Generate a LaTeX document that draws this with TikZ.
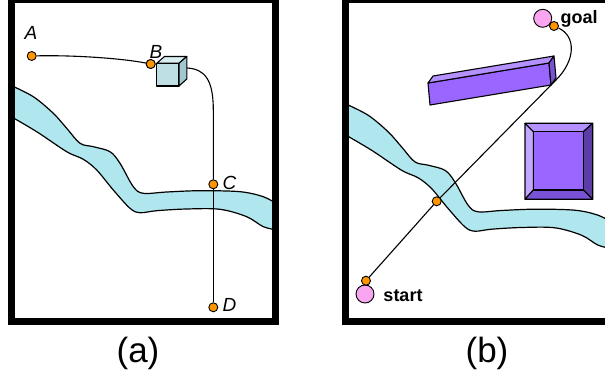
\documentclass[tikz,border=0pt]{standalone}
\usepackage{fontspec}
\setmainfont{Liberation Sans}
\definecolor{rivercolor}{RGB}{176,230,238}
\definecolor{waypoint}{RGB}{255,150,0}
\definecolor{endpoint}{RGB}{250,165,240}
\definecolor{cubefront}{RGB}{190,224,228}
\definecolor{cubetop}{RGB}{216,238,241}
\definecolor{cubeside}{RGB}{160,200,206}
\definecolor{blockcolor}{RGB}{153,102,255}
\definecolor{blocklight}{RGB}{180,145,255}
\definecolor{blockmid}{RGB}{122,82,214}
\definecolor{blockdark}{RGB}{92,60,165}

\begin{document}
\begin{tikzpicture}[
    x=1pt, y=-1pt,
    frame/.style={draw, line width=7pt},
    river/.style={draw, fill=rivercolor, line width=1.2pt},
    route/.style={draw, line width=1.1pt},
    solid face/.style={draw, line width=1.1pt, line join=round},
    wp/.style={circle, draw, fill=waypoint, line width=0.9pt, minimum size=9pt, inner sep=0pt},
    ends/.style={circle, draw, fill=endpoint, line width=0.9pt, minimum size=18pt, inner sep=0pt},
    ptlabel/.style={font=\fontsize{19}{19}\itshape\selectfont, inner sep=0pt},
    goallabel/.style={font=\fontsize{18}{18}\bfseries\selectfont, inner sep=0pt},
    caption/.style={font=\fontsize{35}{35}\selectfont, inner sep=0pt}
]
    \clip (0,0) rectangle (605,387);

    % River, same course in both panels
    \foreach \dx/\dy in {0/0, 334.8/18.5}
      \draw[river, shift={(\dx,\dy)}]
        plot[smooth, tension=0.55] coordinates {(10,85) (33.3,96.7) (53.3,113.3) (66.7,128.3) (80,143.3) (93.3,146.7) (110,151.7) (120,163.3) (133.3,186.7) (143.3,193.3) (166.7,192) (200,190.7) (240,191.7) (263.3,196.7) (277,204)}
        -- plot[smooth, tension=0.55] coordinates {(277,230) (263.3,226.7) (246.7,216.7) (220,209.3) (186.7,209) (156.7,210.7) (140,212.7) (130,208.3) (113.3,190) (96.7,170) (83.3,159.3) (66.7,151.7) (36.7,131.7) (10,116)}
        -- cycle;

    % (a) waypoints
    \node[wp] (A) at (31.7,56) {};
    \node[wp] (B) at (150.7,64) {};
    \node[wp] (C) at (213.3,184.3) {};
    \node[wp] (D) at (213.3,307.3) {};
    \coordinate (cubeexit) at (187,68);

    \draw[route] (A) .. controls (70,55) and (120,58) .. (B);
    \draw[route] (cubeexit) .. controls (205,69) and (213.3,80) .. (213.3,110) -- (C);
    \draw[route] (C) -- (D);

    % obstacle cube
    \draw[solid face, fill=cubefront] (156.7,63.3) rectangle (179,86);
    \draw[solid face, fill=cubetop] (156.7,63.3) -- (164.5,56.5) -- (186.8,56.5) -- (179,63.3) -- cycle;
    \draw[solid face, fill=cubeside] (179,63.3) -- (186.8,56.5) -- (186.8,79) -- (179,86) -- cycle;
    \node[wp] at (B) {};

    \node[ptlabel] (labA) at (31,33) {A};
    \node[ptlabel] (labB) at (156,52) {B};
    \node[ptlabel] (labC) at (229.5,183) {C};
    \node[ptlabel] (labD) at (229.5,305) {D};

    % (b) start and goal
    \node[ends] (start) at (365,294) {};
    \node[ends] (goal) at (542.7,18.3) {};
    \node[wp] (s) at (366,280.7) {};
    \node[wp] (g) at (554,26) {};
    \node[wp] (x) at (436.7,201.3) {};
    \coordinate (bend) at (556,80);

    \draw[route] (s) -- (x) -- (bend) .. controls (576,60) and (576,36) .. (g);

    % long bar
    \draw[solid face, fill=blockcolor] (428,83) -- (549,63) -- (551,85) -- (430,105) -- cycle;
    \draw[solid face, fill=blocklight] (428,83) -- (433,76) -- (554,56) -- (549,63) -- cycle;
    \draw[solid face, fill=blockmid] (549,63) -- (554,56) -- (556,78) -- (551,85) -- cycle;

    % bevelled block
    \draw[solid face, fill=blocklight] (525,123.3) -- (592.7,123.3) -- (583.3,131.7) -- (533.3,131.7) -- cycle;
    \draw[solid face, fill=blocklight!80!white] (525,123.3) -- (533.3,131.7) -- (533.3,190) -- (525,199.3) -- cycle;
    \draw[solid face, fill=blockdark] (592.7,123.3) -- (592.7,199.3) -- (583.3,190) -- (583.3,131.7) -- cycle;
    \draw[solid face, fill=blockmid] (525,199.3) -- (592.7,199.3) -- (583.3,190) -- (533.3,190) -- cycle;
    \draw[solid face, fill=blockcolor] (533.3,131.7) rectangle (583.3,190);

    \node[goallabel] (goaltext) at (579,19) {goal};
    \node[goallabel] (starttext) at (403,296) {start};

    % panel frames
    \draw[frame] (11,-0.5) rectangle (275.5,321.7);
    \draw[frame] (345.8,-0.5) rectangle (610.3,321.7);

    \node[caption] (capA) at (138,353) {(a)};
    \node[caption] (capB) at (487,353) {(b)};
\end{tikzpicture}
\end{document}
